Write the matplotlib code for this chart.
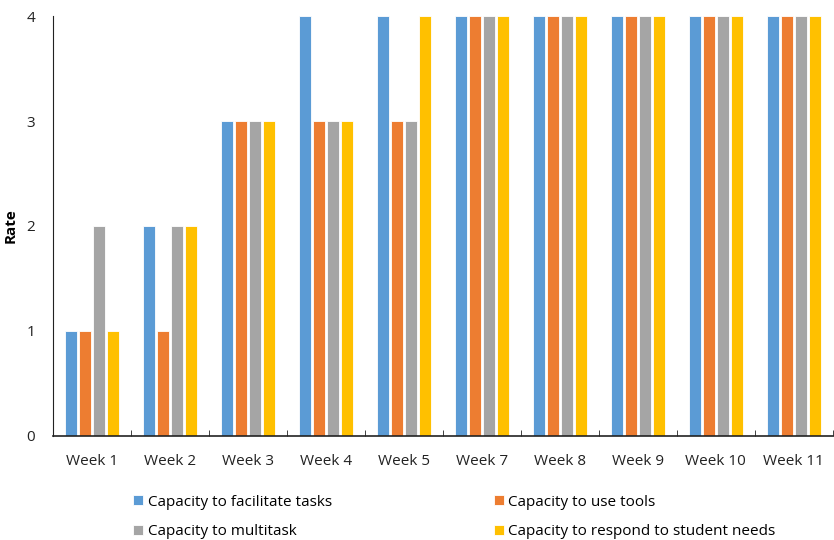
import numpy as np
import matplotlib.pyplot as plt

plt.rcParams['font.family'] = ['Open Sans', 'DejaVu Sans']

weeks = ['Week 1', 'Week 2', 'Week 3', 'Week 4', 'Week 5',
         'Week 7', 'Week 8', 'Week 9', 'Week 10', 'Week 11']
facilitate = [1, 2, 3, 4, 4, 4, 4, 4, 4, 4]
tools = [1, 1, 3, 3, 3, 4, 4, 4, 4, 4]
multitask = [2, 2, 3, 3, 3, 4, 4, 4, 4, 4]
respond = [1, 2, 3, 3, 4, 4, 4, 4, 4, 4]

labels = ['Capacity to facilitate tasks', 'Capacity to use tools',
          'Capacity to multitask', 'Capacity to respond to student needs']
colors = ['#5B9BD5', '#ED7D31', '#A5A5A5', '#FFC000']

fig = plt.figure(figsize=(8.34, 5.4), dpi=100)
ax = fig.add_axes([0.0636, 0.193, 0.935, 0.777])

x = np.arange(len(weeks))
step = 0.18
w = 0.16
bars = []
for i, (vals, lab, c) in enumerate(zip([facilitate, tools, multitask, respond], labels, colors)):
    b = ax.bar(x + (i - 1.5) * step, vals, width=w, color=c, label=lab,
               edgecolor='white', linewidth=0.6)
    bars.append(b)

ax.set_xlim(-0.5, len(weeks) - 0.5)
ax.set_ylim(0, 4)
ax.set_yticks([0, 1, 2, 3, 4])
ax.set_xticks(x)
ax.set_xticklabels(weeks, fontsize=11, color='#222222')
ax.set_xticks(np.arange(len(weeks) + 1) - 0.5, minor=True)
ax.tick_params(axis='x', which='major', length=0, pad=13)
ax.tick_params(axis='x', which='minor', direction='in', length=4, color='#222222')
ax.tick_params(axis='y', length=0, labelsize=11, pad=13, colors='#222222')
ax.set_ylabel('Rate', fontsize=11, fontweight='bold', labelpad=6)

for s in ['top', 'right']:
    ax.spines[s].set_visible(False)
ax.spines['left'].set_color('#222222')
ax.spines['bottom'].set_color('#222222')
ax.spines['bottom'].set_linewidth(1.2)

# row-major legend order like the original
order = [0, 2, 1, 3]
fig.legend([bars[i] for i in order], [labels[i] for i in order],
           loc='center', bbox_to_anchor=(0.545, 0.043), ncol=2, frameon=False,
           fontsize=11, handlelength=0.65, handleheight=0.65, handletextpad=0.3,
           columnspacing=10.6, labelspacing=0.95)

fig.savefig('out.png', dpi=100)
